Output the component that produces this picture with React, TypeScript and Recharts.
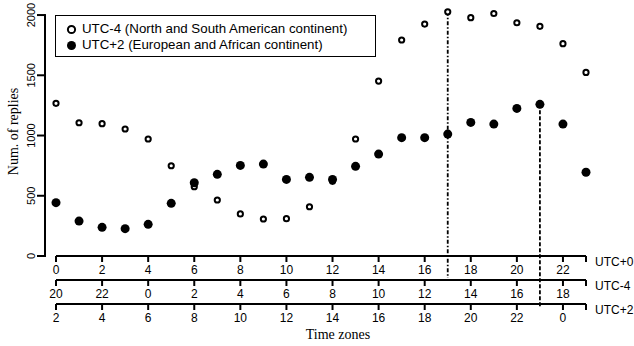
import React from "react";
import { ScatterChart, Scatter, XAxis, YAxis, ReferenceLine, Legend } from "recharts";

// Hour of day in UTC+0, one point per hour
const hours = [0, 1, 2, 3, 4, 5, 6, 7, 8, 9, 10, 11, 12, 13, 14, 15, 16, 17, 18, 19, 20, 21, 22, 23];

// Num. of replies
const utcMinus4Replies = [
  1267, 1106, 1098, 1054, 971, 749, 575, 465, 349, 307, 310, 409,
  620, 971, 1452, 1793, 1925, 2027, 1978, 2013, 1936, 1906, 1762, 1524,
];
const utcPlus2Replies = [
  443, 290, 238, 227, 263, 437, 608, 678, 752, 763, 636, 653,
  636, 744, 846, 982, 982, 1012, 1109, 1095, 1225, 1259, 1095, 695,
];

// Ticks on the three stacked time axes (last tick closes the axis, no label)
const hourTicks = [0, 2, 4, 6, 8, 10, 12, 14, 16, 18, 20, 22, 23];
const utc0Labels = ["0", "2", "4", "6", "8", "10", "12", "14", "16", "18", "20", "22", ""];
const utcMinus4Labels = ["20", "22", "0", "2", "4", "6", "8", "10", "12", "14", "16", "18", ""];
const utcPlus2Labels = ["2", "4", "6", "8", "10", "12", "14", "16", "18", "20", "22", "0", ""];
const yTicks = [0, 500, 1000, 1500, 2000];

// marked hours: UTC-4 peak and UTC+2 peak
const utcMinus4PeakHour = 17;
const utcPlus2PeakHour = 21;

const openData = hours.map((h, i) => ({ hour: h, replies: utcMinus4Replies[i] }));
const filledData = hours.map((h, i) => ({ hour: h, replies: utcPlus2Replies[i] }));

const SANS = "'Liberation Sans', Arial, sans-serif";
const SERIF = "'Liberation Serif', 'Times New Roman', serif";

const makeXTick = (labels: string[], zone: string) => (props: any) => {
  const { x, y, payload } = props;
  const i = hourTicks.indexOf(payload.value);
  return (
    <g>
      <text x={x} y={y + 10} textAnchor="middle" fontSize={12} fontFamily={SANS} fill="#000">
        {labels[i]}
      </text>
      {payload.value === 23 && (
        <text x={x + 9} y={y + 1.5} textAnchor="start" fontSize={12} fontFamily={SANS} fill="#000">
          {zone}
        </text>
      )}
    </g>
  );
};

const YTick = (props: any) => {
  const { x, y, payload } = props;
  const tx = x - 10;
  return (
    <g>
      <line x1={x - 8} x2={x} y1={y} y2={y} stroke="#000" strokeWidth={2} />
      <text
        x={tx}
        y={y}
        transform={`rotate(-90, ${tx}, ${y})`}
        textAnchor="middle"
        fontSize={11}
        fontFamily={SANS}
        fill="#000"
      >
        {payload.value}
      </text>
    </g>
  );
};

const YTitle = (props: any) => {
  const vb = props.viewBox;
  const tx = vb.x + 18;
  const ty = vb.y + vb.height / 2 + 2;
  return (
    <text x={tx} y={ty} transform={`rotate(-90, ${tx}, ${ty})`} textAnchor="middle" fontSize={14} fontFamily={SERIF} fill="#000">
      Num. of replies
    </text>
  );
};

const XTitle = (props: any) => {
  const vb = props.viewBox;
  return (
    <text x={vb.x + vb.width / 2 + 17} y={vb.y + 35} textAnchor="middle" fontSize={14} fontFamily={SERIF} fill="#000">
      Time zones
    </text>
  );
};

const OpenDot = (props: any) => (
  <circle cx={props.cx} cy={props.cy} r={2.6} fill="#fff" stroke="#000" strokeWidth={2} />
);
const FilledDot = (props: any) => <circle cx={props.cx} cy={props.cy} r={4.5} fill="#000" />;

const LegendBox = () => (
  <div
    style={{
      boxSizing: "border-box",
      width: 321,
      height: 42,
      border: "1.5px solid #000",
      padding: "5px 0 0 10px",
      background: "#fff",
      fontFamily: SANS,
      fontSize: 13.3,
      lineHeight: "16px",
      color: "#000",
      whiteSpace: "nowrap",
    }}
  >
    <div style={{ display: "flex", alignItems: "center", height: 16 }}>
      <svg width={11} height={11}>
        <circle cx={5.5} cy={5.5} r={3.6} fill="#fff" stroke="#000" strokeWidth={2} />
      </svg>
      <span style={{ marginLeft: 5 }}>UTC-4 (North and South American continent)</span>
    </div>
    <div style={{ display: "flex", alignItems: "center", height: 16 }}>
      <svg width={11} height={11}>
        <circle cx={5.5} cy={5.5} r={4.5} fill="#000" />
      </svg>
      <span style={{ marginLeft: 5 }}>UTC+2 (European and African continent)</span>
    </div>
  </div>
);

const axisStroke = { stroke: "#000", strokeWidth: 2 };

export default function App() {
  return (
    <div style={{ position: "fixed", left: 0, top: 0, width: 634, height: 346, background: "#fff" }}>
      <ScatterChart width={634} height={346} margin={{ top: 3, right: 48, bottom: 0, left: 0 }}>
        <XAxis
          xAxisId="utc0"
          type="number"
          dataKey="hour"
          domain={[0, 23]}
          ticks={hourTicks}
          interval={0}
          height={24}
          axisLine={axisStroke}
          tickLine={axisStroke}
          tickSize={6}
          tick={makeXTick(utc0Labels, "UTC+0")}
        />
        <XAxis
          xAxisId="utcm4"
          type="number"
          dataKey="hour"
          domain={[0, 23]}
          allowDataOverflow
          ticks={hourTicks}
          interval={0}
          height={24}
          axisLine={axisStroke}
          tickLine={axisStroke}
          tickSize={6}
          tick={makeXTick(utcMinus4Labels, "UTC-4")}
        />
        <XAxis
          xAxisId="utcp2"
          type="number"
          dataKey="hour"
          domain={[0, 23]}
          allowDataOverflow
          ticks={hourTicks}
          interval={0}
          height={42}
          axisLine={axisStroke}
          tickLine={axisStroke}
          tickSize={6}
          tick={makeXTick(utcPlus2Labels, "UTC+2")}
          label={<XTitle />}
        />
        <YAxis
          type="number"
          dataKey="replies"
          domain={[0, 2100]}
          ticks={yTicks}
          interval={0}
          width={56}
          axisLine={false}
          tickLine={false}
          tickSize={11}
          tickMargin={0}
          tick={<YTick />}
          label={<YTitle />}
        />
        {/* y axis line stands off the first hour */}
        <ReferenceLine
          xAxisId="utc0"
          segment={[
            { x: -0.478, y: 0 },
            { x: -0.478, y: 2000 },
          ]}
          ifOverflow="visible"
          stroke="#000"
          strokeWidth={2}
          strokeLinecap="square"
        />
        <ReferenceLine
          xAxisId="utc0"
          segment={[
            { x: utcMinus4PeakHour, y: utcMinus4Replies[utcMinus4PeakHour] },
            { x: utcMinus4PeakHour, y: -183 },
          ]}
          ifOverflow="visible"
          stroke="#000"
          strokeWidth={1.8}
          strokeDasharray="4 2 1.5 2"
        />
        <ReferenceLine
          xAxisId="utc0"
          segment={[
            { x: utcPlus2PeakHour, y: utcPlus2Replies[utcPlus2PeakHour] },
            { x: utcPlus2PeakHour, y: -423 },
          ]}
          ifOverflow="visible"
          stroke="#000"
          strokeWidth={1.8}
          strokeDasharray="4 2"
        />
        <Scatter
          xAxisId="utc0"
          name="UTC-4"
          data={openData}
          shape={OpenDot}
          isAnimationActive={false}
        />
        <Scatter
          xAxisId="utc0"
          name="UTC+2"
          data={filledData}
          shape={FilledDot}
          isAnimationActive={false}
        />
        <Legend
          content={LegendBox}
          layout="vertical"
          align="center"
          verticalAlign="middle"
          wrapperStyle={{ left: 55, top: 15, width: 321, height: 42 }}
        />
      </ScatterChart>
    </div>
  );
}
